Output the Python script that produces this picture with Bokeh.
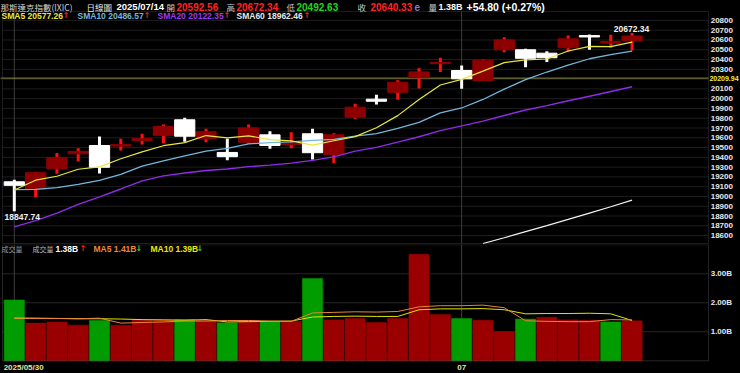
from bokeh.plotting import figure
from bokeh.models import Range1d, Label, ColumnDataSource, BoxAnnotation
from bokeh.layouts import column
from bokeh.embed import file_html
from bokeh.resources import INLINE
from bokeh.core.properties import value

# ---------------- data ----------------
dates = ["2025/05/30", "2025/06/02", "2025/06/03", "2025/06/04", "2025/06/05", "2025/06/06",
         "2025/06/09", "2025/06/10", "2025/06/11", "2025/06/12", "2025/06/13",
         "2025/06/16", "2025/06/17", "2025/06/18", "2025/06/20",
         "2025/06/23", "2025/06/24", "2025/06/25", "2025/06/26", "2025/06/27",
         "2025/06/30", "2025/07/01", "2025/07/02", "2025/07/03",
         "2025/07/07", "2025/07/08", "2025/07/09", "2025/07/10", "2025/07/11", "2025/07/14"]
opens = [19150, 19078, 19283, 19436, 19521, 19515, 19572, 19625, 19784, 19590,
         19450, 19555, 19630, 19530, 19641, 19430, 19810, 19995, 20066, 20215,
         20358, 20288, 20186, 20500, 20500, 20465, 20520, 20645, 20568, 20592.56]
highs = [19170, 19250, 19445, 19493, 19613, 19590, 19640, 19736, 19804, 19692,
         19590, 19736, 19667, 19657, 19692, 19647, 19947, 20040, 20187, 20311,
         20418, 20339, 20400, 20628, 20510, 20485, 20646, 20655, 20653, 20672.34]
lows = [18847.74, 18992, 19232, 19357, 19235, 19470, 19531, 19545, 19560, 19555,
        19370, 19540, 19487, 19493, 19378, 19340, 19794, 19940, 19990, 20105,
        20272, 20101, 20180, 20475, 20322, 20375, 20478, 20500, 20520, 20492.63]
closes = [19113.77, 19242.61, 19398.96, 19460.49, 19298.45, 19529.95, 19591.24, 19714.99,
          19615.88, 19662.49, 19406.83, 19701.21, 19521.09, 19546.27, 19447.41, 19630.97,
          19912.53, 19973.55, 20167.91, 20273.46, 20369.73, 20202.89, 20393.13, 20601.10,
          20412.52, 20418.46, 20611.34, 20630.67, 20585.53, 20640.33]
prev_close = 19175.87

sma5 = [19065.4, 19166.5, 19206.4, 19278.3, 19302.9, 19386.1, 19455.8, 19519.0, 19550.1, 19622.9,
        19598.3, 19620.3, 19581.5, 19567.6, 19524.6, 19569.4, 19611.7, 19702.1, 19826.5, 19991.7,
        20139.4, 20197.5, 20281.4, 20368.1, 20395.9, 20405.6, 20487.3, 20534.8, 20531.7, 20577.26]
sma10 = [19069.5, 19072.6, 19091.0, 19122.7, 19165.3, 19225.7, 19311.1, 19362.7, 19414.2, 19462.9,
         19492.2, 19538.0, 19550.3, 19558.8, 19573.7, 19583.8, 19616.0, 19641.8, 19697.0, 19758.1,
         19854.4, 19904.6, 19991.8, 20097.3, 20193.8, 20272.5, 20342.4, 20408.1, 20449.9, 20486.57]
sma20 = [18688.9, 18752.2, 18829.9, 18918.5, 18996.5, 19076.6, 19159.7, 19210.0, 19240.3, 19266.1,
         19280.8, 19305.3, 19320.6, 19340.8, 19369.5, 19404.8, 19463.6, 19502.3, 19555.6, 19610.5,
         19673.3, 19721.3, 19771.0, 19828.1, 19883.8, 19928.2, 19979.2, 20025.0, 20073.5, 20122.35]
NaN = float("nan")
sma60 = [NaN, NaN, NaN, NaN, NaN, NaN, NaN, NaN, NaN, NaN,
         NaN, NaN, NaN, NaN, NaN, NaN, NaN, NaN, NaN, NaN,
         NaN, NaN, 18519, 18578, 18640, 18702, 18765, 18830, 18895, 18962.46]

volume = [2.10, 1.30, 1.34, 1.23, 1.39, 1.23, 1.41, 1.42, 1.42, 1.39,
          1.31, 1.39, 1.36, 1.36, 2.84, 1.41, 1.46, 1.32, 1.46, 3.67,
          1.60, 1.46, 1.40, 1.01, 1.44, 1.50, 1.41, 1.40, 1.34, 1.38]
vol_ma5 = [1.47, 1.46, 1.46, 1.45, 1.47, 1.30, 1.32, 1.34, 1.37, 1.37,
           1.39, 1.39, 1.37, 1.36, 1.65, 1.67, 1.69, 1.68, 1.70, 1.86,
           1.90, 1.90, 1.92, 1.83, 1.38, 1.36, 1.35, 1.35, 1.42, 1.41]
vol_ma10 = [1.47, 1.47, 1.46, 1.45, 1.45, 1.44, 1.42, 1.41, 1.40, 1.42,
            1.34, 1.35, 1.36, 1.37, 1.51, 1.53, 1.54, 1.53, 1.53, 1.76,
            1.79, 1.79, 1.80, 1.76, 1.62, 1.63, 1.63, 1.64, 1.62, 1.39]

price_ticks = [18600, 18700, 18800, 18900, 19000, 19100, 19200, 19300, 19400, 19500, 19600,
               19700, 19800, 19900, 20000, 20100, 20300, 20400, 20500, 20600, 20700, 20800]
grid_levels = [18600, 18700, 18800, 18900, 19000, 19100, 19200, 19300, 19400, 19500, 19600,
               19700, 19800, 19900, 20000, 20100, 20200, 20300, 20400, 20500, 20600, 20700, 20800]
ref_level = 20209.94
vol_ticks = [1, 2, 3]
vol_tick_labels = ["1.00B", "2.00B", "3.00B"]
month_idx = [0, 21]
month_labels = ["2025/05/30", "07"]

# ---------------- layout / style constants ----------------
W = 740
PH, VH = 244, 129
XR = Range1d(-0.648, 34.09)          # one candle every 21.3 px, first at x=13.8
P_LO, P_HI = 18519, 20891            # price panel box
V_LO, V_HI = 0, 4.0                  # volume panel box
X_LO, X_HI = -0.554, 32.59           # panel box left / right
X_LAB = 32.69                        # axis label column

BG = "#000000"
UP_BODY = "#8e0000"
UP_WICK = "#ff1010"
DN = "#ffffff"
VOL_UP = "#9a0000"
VOL_DN = "#009c00"
NUMF = "Liberation Sans"
CJKF = "Noto Sans CJK TC"
ARF = "DejaVu Sans"

idx = list(range(len(dates)))
up_flags = [c >= o for o, c in zip(opens, closes)]


def sel(lst, flag):
    return [v for v, f in zip(lst, up_flags) if f == flag]


def candle_source(flag):
    o, c = sel(opens, flag), sel(closes, flag)
    return ColumnDataSource(dict(x=sel(idx, flag), h=sel(highs, flag), l=sel(lows, flag),
                                 top=[max(a, b) for a, b in zip(o, c)],
                                 bot=[min(a, b) for a, b in zip(o, c)]))


up_src = candle_source(True)
dn_src = candle_source(False)

prevs = [prev_close] + closes[:-1]
vol_colors = [VOL_UP if c >= p else VOL_DN for c, p in zip(closes, prevs)]
vol_src = ColumnDataSource(dict(x=idx, v=volume, color=vol_colors))


def base_fig(height, yr):
    f = figure(width=W, height=height, x_range=XR, y_range=yr,
               output_backend="svg", toolbar_location=None,
               x_axis_location=None, y_axis_location=None,
               min_border=0, min_border_left=0, min_border_right=0,
               min_border_top=0, min_border_bottom=0,
               background_fill_color=BG, border_fill_color=BG, outline_line_color=None)
    f.grid.visible = False
    return f


def lab(fig, H, X, Y, text, color, size, font=NUMF, style="bold", align="left"):
    fig.add_layout(Label(x=X, y=H - Y, x_units="screen", y_units="screen", text=text,
                         text_color=color, text_font_size=f"{size}px", text_font=font,
                         text_font_style=style, text_align=align, text_baseline="middle"))


# ---------------- price panel ----------------
p = base_fig(PH, Range1d(18508.8, 21003.7))

# grid lines
p.segment(x0=[X_LO] * len(grid_levels), x1=[X_HI] * len(grid_levels), y0=grid_levels,
          y1=grid_levels, line_color="#1e1e1e", line_width=1)
p.segment(x0=month_idx, x1=month_idx, y0=[P_LO] * 2, y1=[P_HI] * 2,
          line_color="#3e3e3e", line_width=1)
p.segment(x0=[-0.648], x1=[X_HI], y0=[ref_level], y1=[ref_level],
          line_color="#8f8f3a", line_width=1)

# candles: wicks behind bodies
p.segment(x0="x", y0="l", x1="x", y1="h", source=up_src, line_color=UP_WICK, line_width=3)
p.segment(x0="x", y0="l", x1="x", y1="h", source=dn_src, line_color=DN, line_width=3)
p.vbar(x="x", width=0.95, top="top", bottom="bot", source=up_src,
       fill_color=UP_BODY, line_color=UP_BODY, line_width=1)
p.vbar(x="x", width=0.95, top="top", bottom="bot", source=dn_src,
       fill_color=DN, line_color=DN, line_width=1)

p.line(idx, sma60, line_color="#f2f2f2", line_width=1.2)
p.line(idx, sma20, line_color="#8f2be8", line_width=1.4)
p.line(idx, sma10, line_color="#72b6dc", line_width=1.3)
p.line(idx, sma5, line_color="#e8e83c", line_width=1.2)

p.add_layout(BoxAnnotation(left=X_LO, right=X_HI, bottom=P_LO, top=P_HI,
                           fill_alpha=0, line_color="#5c5c5c", line_width=1))

# price axis labels
p.text(x=[X_LAB] * len(price_ticks), y=price_ticks, text=[str(t) for t in price_ticks],
       text_font=value(NUMF), text_font_style="bold", text_font_size="8px",
       text_color="#e8e8e8", text_align="left", text_baseline="middle")
p.text(x=[X_LAB - 0.06], y=[ref_level], text=[f"{ref_level:.2f}"],
       text_font=value(NUMF), text_font_style="bold", text_font_size="7px",
       text_color="#f0f03c", text_align="left", text_baseline="middle")

# header row 1
lab(p, PH, 0, 6, "那斯達克指數(IXIC)", "#d2d2d2", 8.5, font=CJKF, style="normal")
lab(p, PH, 86, 6, "日線圖", "#e6e6e6", 8.5, font=CJKF, style="normal")
lab(p, PH, 116, 6, "2025/07/14", "#ffffff", 9.5)
lab(p, PH, 166, 6, "開", "#c8c8c8", 8.5, font=CJKF, style="normal")
lab(p, PH, 176, 6, f"{opens[-1]:.2f}", "#ff2424", 10)
lab(p, PH, 226, 6, "高", "#c8c8c8", 8.5, font=CJKF, style="normal")
lab(p, PH, 236, 6, f"{highs[-1]:.2f}", "#ff2424", 10)
lab(p, PH, 286, 6, "低", "#c8c8c8", 8.5, font=CJKF, style="normal")
lab(p, PH, 296, 6, f"{lows[-1]:.2f}", "#22d422", 10)
lab(p, PH, 357, 6, "收", "#c8c8c8", 8.5, font=CJKF, style="normal")
lab(p, PH, 370, 6, f"{closes[-1]:.2f}", "#ff2424", 10)
lab(p, PH, 414, 6, "e", "#8878d8", 10)
lab(p, PH, 428, 6, "量", "#c8c8c8", 8.5, font=CJKF, style="normal")
lab(p, PH, 438, 6, f"{volume[-1]:.2f}B", "#ffffff", 9)
chg = closes[-1] - closes[-2]
lab(p, PH, 466, 6, f"+{chg:.2f} (+{chg / closes[-2] * 100:.2f}%)", "#ffffff", 10.5)

# header row 2 (SMA values)
sma_items = [(1, 62, "SMA5", sma5, "#e8e83c"), (77, 143, "SMA10", sma10, "#72b6dc"),
             (157, 223, "SMA20", sma20, "#9a3cf2"), (236, 303, "SMA60", sma60, "#e6e6e6")]
for x0, xa, name, arr, col in sma_items:
    lab(p, PH, x0, 15, f"{name} {arr[-1]:.2f}", col, 8.5)
    lab(p, PH, xa, 15, "↑", "#ff2020", 8, font=ARF)

# extreme annotations
lab(p, PH, 631, 28, f"{max(highs):.2f}", "#f0f0f0", 8.5, align="center")
lab(p, PH, 4, 216, f"{min(lows):.2f}", "#f0f0f0", 8.5)

# ---------------- volume panel ----------------
v = base_fig(VH, Range1d(-0.438, 4.010))
v.segment(x0=[X_LO] * len(vol_ticks), x1=[X_HI] * len(vol_ticks), y0=vol_ticks, y1=vol_ticks,
          line_color="#262626", line_width=1)
v.segment(x0=month_idx, x1=month_idx, y0=[V_LO] * 2, y1=[V_HI] * 2,
          line_color="#3e3e3e", line_width=1)

v.vbar(x="x", width=0.95, top="v", bottom=0, source=vol_src,
       fill_color="color", line_color="color", line_width=0.5)
v.line(idx, vol_ma10, line_color="#e4e400", line_width=1)
v.line(idx, vol_ma5, line_color="#e8843c", line_width=1)

v.add_layout(BoxAnnotation(left=X_LO, right=X_HI, bottom=V_LO, top=V_HI,
                           fill_alpha=0, line_color="#7a7a7a", line_width=1))

v.text(x=[X_LAB] * len(vol_ticks), y=vol_ticks, text=vol_tick_labels,
       text_font=value(NUMF), text_font_style="bold", text_font_size="8px",
       text_color="#e8e8e8", text_align="left", text_baseline="middle")

# date marks under the volume panel
v.text(x=[month_idx[0] - 0.5], y=[-0.24], text=[month_labels[0]],
       text_font=value(NUMF), text_font_style="bold", text_font_size="8px",
       text_color="#e2e29a", text_align="left", text_baseline="middle")
v.text(x=[month_idx[1]], y=[-0.24], text=[month_labels[1]],
       text_font=value(NUMF), text_font_style="bold", text_font_size="8px",
       text_color="#e2e29a", text_align="center", text_baseline="middle")

# volume legend
lab(v, VH, 1, 4, "成交量", "#9a9a9a", 7, font=CJKF, style="normal")
lab(v, VH, 32, 4, "成交量", "#bdbdbd", 7, font=CJKF, style="normal")
lab(v, VH, 55, 4, f"{volume[-1]:.2f}B", "#ffffff", 8.5)
lab(v, VH, 79, 4, "↑", "#ff2020", 8, font=ARF)
lab(v, VH, 93, 4, f"MA5 {vol_ma5[-1]:.2f}B", "#f0843c", 8.5)
lab(v, VH, 135, 4, "↓", "#22dd22", 8, font=ARF)
lab(v, VH, 150, 4, f"MA10 {vol_ma10[-1]:.2f}B", "#e8e800", 8.5)
lab(v, VH, 196, 4, "↓", "#22dd22", 8, font=ARF)

layout = column(p, v, spacing=0, styles={"background-color": "#000000"})
open("out.html", "w").write(file_html(layout, INLINE))
